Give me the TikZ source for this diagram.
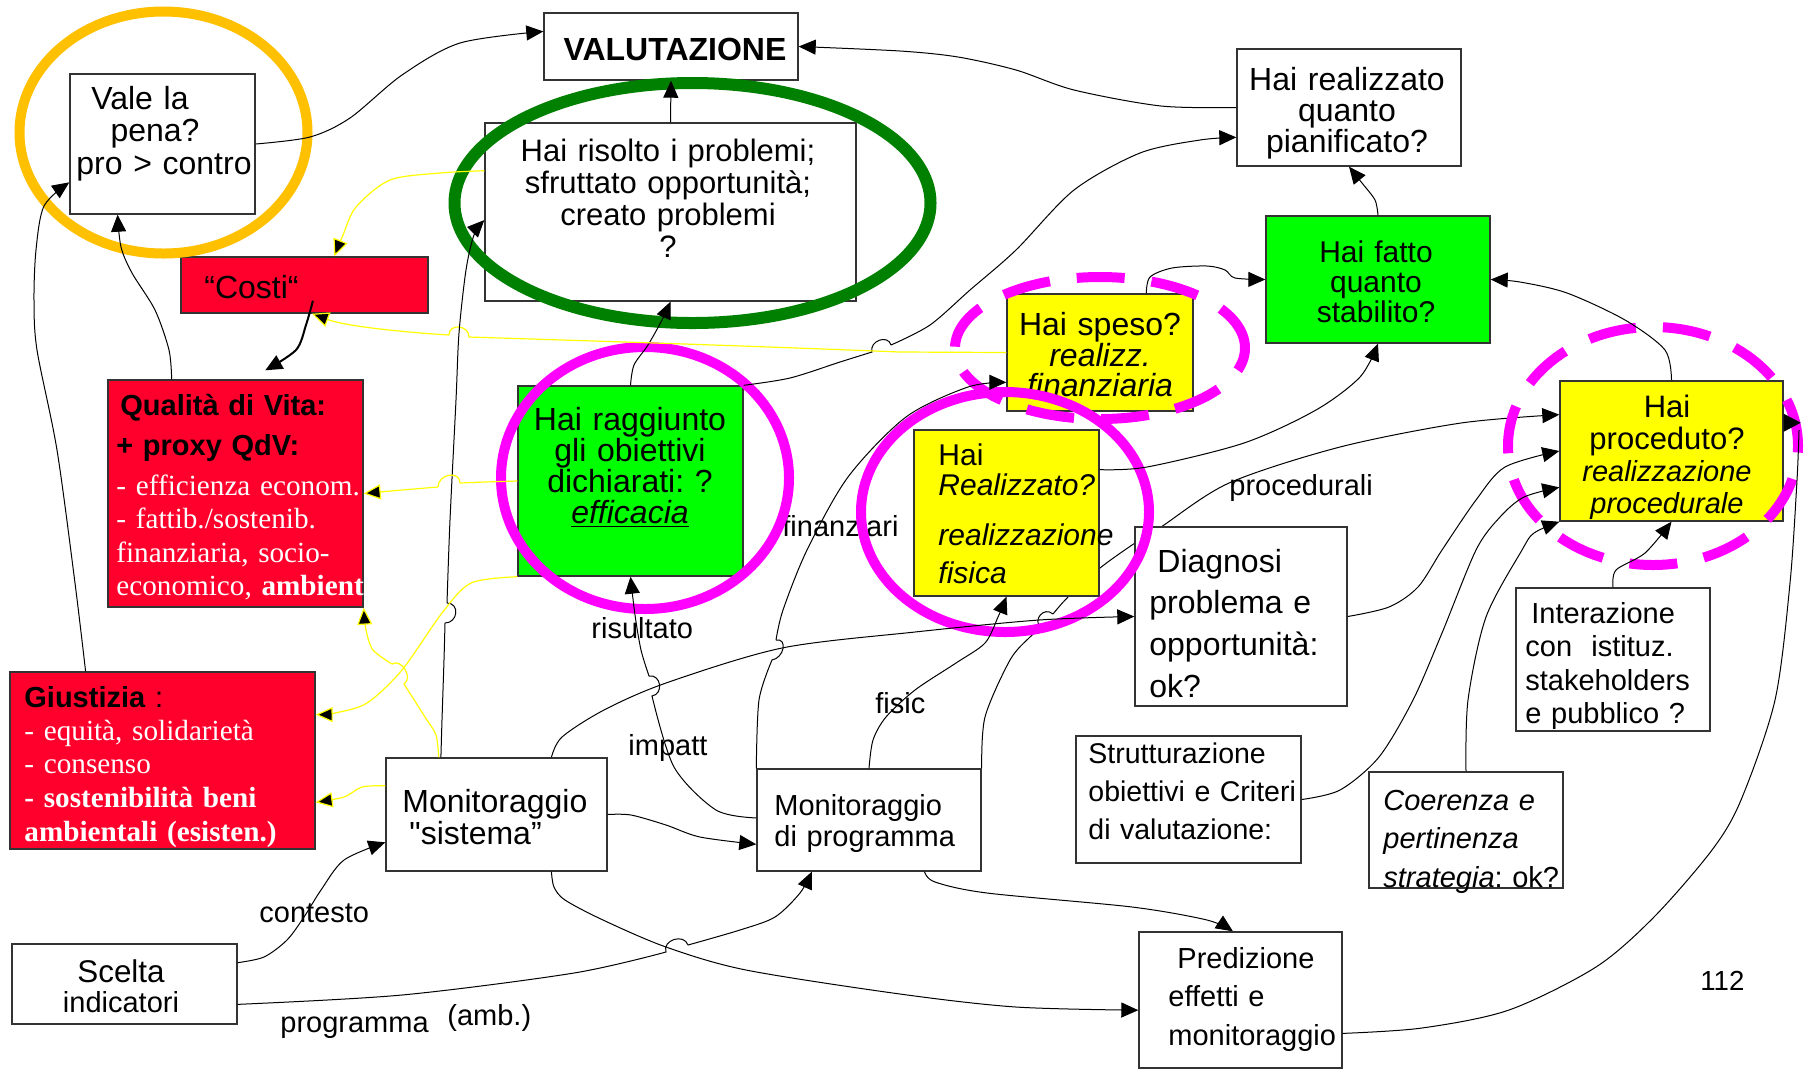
\documentclass[tikz,border=0pt]{standalone}
\usepackage{fontspec}
\newfontfamily\asf{Liberation Sans}
\newfontfamily\tms{Liberation Serif}
\usetikzlibrary{arrows.meta,calc,shapes.geometric}
\definecolor{qred}{RGB}{255,0,44}
\definecolor{qgrn}{RGB}{0,255,0}
\definecolor{qyel}{RGB}{255,255,0}
\definecolor{qmag}{RGB}{255,0,255}
\definecolor{qdkg}{RGB}{0,128,0}
\definecolor{qorange}{RGB}{255,192,0}
\newcommand{\myfs}[2]{\fontsize{#1}{#2}\selectfont}
\pgfdeclarelayer{bg}
\pgfsetlayers{bg,main}
\tikzset{
  box/.style={draw=black!80, line width=0.7pt, inner sep=0pt, rectangle},
  bsz/.style 2 args={minimum width=#1*0.5pt, minimum height=#2*0.5pt},
  tl/.style={inner sep=0pt, anchor=base west, align=left, text width=220pt},
  tc/.style={inner sep=0pt, anchor=base, align=center, text width=220pt},
  conn/.style={draw=black, line width=0.5pt, -{Triangle[length=8.5pt,width=7.5pt]}},
  yconn/.style={draw=qyel, line width=0.6pt, -{Triangle[length=8.5pt,width=7.5pt,fill=black]}},
  ring/.style={ellipse, inner sep=0pt, line width=5pt},
  rsz/.style 2 args={minimum width=#1*1pt, minimum height=#2*1pt},
  lab/.style={tl, font=\asf\myfs{14.5}{16}}
}
\begin{document}
\frenchspacing
\begin{tikzpicture}[x=0.5pt,y=-0.5pt]
\useasboundingbox (0,0) rectangle (1809,1073);
% ---------- boxes ----------
\node[box,fill=white,bsz={254}{67}] (val) at (671,46.5) {};
\node[box,fill=white,bsz={185}{140}] (vale) at (162.5,144) {};
\node[box,fill=white,bsz={371}{178}] (ris) at (670.5,212) {};
\node[box,fill=qred,bsz={247}{56}] (costi) at (304.5,285) {};
\node[box,fill=qred,bsz={255}{227}] (qdv) at (235.5,493.5) {};
\node[box,fill=qgrn,bsz={225}{190}] (ragg) at (630.5,481) {};
\node[box,fill=qyel,bsz={186}{117}] (speso) at (1100,352.5) {};
\node[box,fill=qgrn,bsz={224}{127}] (fatto) at (1378,279.5) {};
\node[box,fill=white,bsz={224}{117}] (realq) at (1349,107.5) {};
\node[box,fill=qyel,bsz={185}{166}] (realf) at (1006.5,513) {};
\node[box,fill=qyel,bsz={223}{140}] (proc) at (1671.5,451) {};
\node[box,fill=white,bsz={212}{179}] (diag) at (1241,616.5) {};
\node[box,fill=white,bsz={194}{143}] (inter) at (1613,659.5) {};
\node[box,fill=white,bsz={225}{127}] (strut) at (1188.5,799.5) {};
\node[box,fill=white,bsz={194}{116}] (coer) at (1466,830) {};
\node[box,fill=white,bsz={221}{113}] (msis) at (496.5,814.5) {};
\node[box,fill=white,bsz={224}{102}] (mprog) at (869,820) {};
\node[box,fill=white,bsz={225}{80}] (scelta) at (124.5,984) {};
\node[box,fill=white,bsz={203}{136}] (pred) at (1240.5,1000) {};
\node[box,fill=qred,bsz={305}{177}] (giust) at (162.5,760.5) {};
% ---------- background + hidden connector ----------
\begin{pgfonlayer}{bg}
\fill[white] (0,0) rectangle (1809,1073);
\coordinate (v1) at ($(proc.north west)!0.243!(proc.south west)$);
\draw[conn] plot[smooth] coordinates {(mprog.north east) (985,717) (1010,660) (1030,637) (1041,628)}
  .. controls (1032,620) and (1044,606) .. (1053,614)
  plot[smooth] coordinates {(1053,614) (1068,597) (1100,568) (1135,543) (1161,527) (1229,483) (1340,447) (1461,423) (v1)};
\end{pgfonlayer}
% ---------- texts ----------
\node[tc,font=\asf\bfseries\myfs{16}{16}] (tval) at (675,60) {VALUTAZIONE};
\node[tc,font=\asf\myfs{16}{16.25}] (tvale) at (164,109) {Vale la\rule{24pt}{0pt}\\pena?\rule{9pt}{0pt}\\pro > contro};
\node[tc,font=\asf\myfs{15.5}{16}] (tris) at (668,161) {Hai risolto i problemi;\\sfruttato opportunità;\\creato problemi\\?};
\node[tl,font=\asf\myfs{16}{16}] (tcosti) at (204,298) {“Costi“};
\node[tl,font=\asf\bfseries\myfs{14.5}{16}] (tqdv1) at (120,415) {Qualità di Vita:};
\node[tl,font=\asf\bfseries\myfs{14.5}{16}] (tqdv2) at (116,455) {+ proxy QdV:};
\node[tl,font=\tms\myfs{14.6}{16.75},text=white] (tqdv3) at (116,495) {- efficienza econom.\\- fattib./sostenib.\\finanziaria, socio-\\economico, \textbf{ambient}};
\node[tc,font=\asf\myfs{16}{15.6}] (tragg) at (630,430) {Hai raggiunto\\gli obiettivi\\dichiarati: ?\\\underline{\itshape efficacia}};
\node[tc,font=\asf\myfs{16}{14.75}] (tspeso) at (1100,335) {Hai speso?\\{\itshape realizz.}\\{\itshape finanziaria}};
\node[tc,font=\asf\myfs{15}{15}] (tfatto) at (1376,262) {Hai fatto\\quanto\\stabilito?};
\node[tc,font=\asf\myfs{16}{15.5}] (trealq) at (1347,90) {Hai realizzato\\quanto\\pianificato?};
\node[tl,font=\asf\myfs{15}{15}] (trealf) at (938,465) {Hai\\{\itshape Realizzato?}\\[10pt]{\itshape realizzazione}\\[4pt]{\itshape fisica}};
\node[tc,font=\asf\myfs{15.5}{16}] (tproc) at (1667,417) {Hai\\proceduto?\\{\itshape\myfs{14.5}{16}realizzazione}\\{\itshape\myfs{14.5}{16}procedurale}};
\node[tl,font=\asf\myfs{16}{20.85}] (tdiag) at (1149,572) {\hspace*{4pt}Diagnosi\\problema e\\opportunità:\\ok?};
\node[tl,font=\asf\myfs{14.5}{16.75}] (tinter) at (1525,623) {\hspace*{3pt}Interazione\\con\ \ istituz.\\stakeholders\\e pubblico ?};
\node[tl,font=\asf\myfs{14.25}{19}] (tstrut) at (1088,763) {Strutturazione\\obiettivi e Criteri\\di valutazione:};
\node[tl,font=\asf\myfs{14.5}{19.25}] (tcoer) at (1383,810) {{\itshape Coerenza e}\\{\itshape pertinenza}\\{\itshape strategia}: ok?};
\node[tl,font=\asf\myfs{16}{16}] (tmsis) at (402,812) {Monitoraggio\\\hspace*{3.5pt}"sistema”};
\node[tl,font=\asf\myfs{14.5}{15.5}] (tmprog) at (774,815) {Monitoraggio\\di programma};
\node[tc,font=\asf\myfs{15.7}{15}] (tscelta) at (121,982) {Scelta\\{\myfs{14.5}{15}indicatori}};
\node[tl,font=\asf\myfs{14.5}{19.25}] (tpred) at (1168,968) {\hspace*{4.5pt}Predizione\\effetti e\\monitoraggio};
\node[tl,font=\asf\myfs{14.5}{16}] (tgiust1) at (24,707) {\textbf{Giustizia} :};
\node[tl,font=\tms\myfs{14.6}{16.9},text=white] (tgiust2) at (24,740) {- equità, solidarietà\\- consenso\\\textbf{- sostenibilità beni}\\\textbf{ambientali (esisten.)}};
% ---------- labels ----------
\node[lab] (lproc) at (1229,495) {procedurali};
\node[lab] (lfin) at (782,536) {finanziari};
\node[lab] (lris) at (591,638) {risultato};
\node[lab] (limp) at (628,755) {impatt};
\node[lab] (lfis) at (875,713) {fisic};
\node[lab] (lcont) at (259,922) {contesto};
\node[lab] (lprog) at (280,1032) {programma};
\node[lab] (lamb) at (447,1025) {(amb.)};
\node[tl,font=\asf\myfs{13.8}{16}] (lpage) at (1700,990) {112};
% ---------- rings ----------
\node[ring,draw=qorange,rsz={144}{121}] (rorange) at (163.5,132.5) {};
\node[ring,draw=qdkg,rsz={238}{120},line width=6pt] (rgreen) at (692.5,203) {};
\node[ring,draw=qmag,rsz={144}{131}] (rmag1) at (645,478) {};
\node[ring,draw=qmag,rsz={144}{120}] (rmag2) at (1005,512) {};
\node[ring,draw=qmag,rsz={145}{71},dash pattern=on 24pt off 13.5pt] (rdash1) at (1100,348) {};
\node[ring,draw=qmag,rsz={145}{119},dash pattern=on 24pt off 13.5pt] (rdash2) at (1653,446) {};
% ---------- connectors ----------
% a
\coordinate (a1) at ($(val.north west)!0.28!(val.south west)$);
\draw[conn] plot[smooth] coordinates {(vale.east) (310,137) (350,118) (402,75) (460,43) (a1)};
% b
\draw[conn] plot[smooth] coordinates {(realq.west) (1161,106) (1074,90) (1016,70) (958,57) (900,51) (val.east)};
% c
\draw[conn] (ris.north) -- (val.south);
% d
\draw[conn] plot[smooth] coordinates {(ragg.north) (634,365) (648,345) (662,320) (ris.south)};
% e
\coordinate (e1) at ($(realq.north west)!0.752!(realq.south west)$);
\draw[conn] plot[smooth] coordinates {(ragg.north east) (790,378) (840,362) (872,352)}
  .. controls (869,341) and (888,334) .. (891,345)
  plot[smooth] coordinates {(891,345) (930,325) (970,290) (1016,250) (1074,190) (1140,153) (1200,140) (e1)};
% f (yellow)
\coordinate (f1) at ($(costi.south west)!0.53!(costi.south east)$);
\draw[yconn] (speso.west) -- (900,352) .. controls (700,344) and (560,340) .. (469,337)
  .. controls (469,325) and (449,323) .. (449,335) .. controls (400,332) and (345,326) .. (f1);
% g (yellow)
\coordinate (g1) at ($(ris.north west)!0.27!(ris.south west)$);
\coordinate (g2) at ($(costi.north west)!0.62!(costi.north east)$);
\draw[yconn] plot[smooth] coordinates {(g1) (440,173) (390,180) (356,207) (343,235) (g2)};
% h
\coordinate (h0) at ($(costi.south west)!0.534!(costi.south east)+(0,-13)$);
\coordinate (h1) at ($(qdv.north west)!0.616!(qdv.north east)+(0,-9)$);
\draw[conn,line width=1pt] plot[smooth] coordinates {(h0) (306,325) (296,350) (h1)};
% i
\coordinate (i0) at ($(qdv.north west)!0.251!(qdv.north east)$);
\coordinate (i1) at ($(vale.south west)!0.259!(vale.south east)$);
\draw[conn] plot[smooth] coordinates {(i0) (169,350) (155,310) (132,273) (121,247) (i1)};
% j
\coordinate (j0) at ($(giust.north west)!0.249!(giust.north east)$);
\coordinate (j1) at ($(vale.north west)!0.771!(vale.south west)$);
\draw[conn] plot[smooth] coordinates {(j0) (75,583) (57,450) (37,350) (34,300) (36,250) (44,206) (j1)};
% k
\coordinate (k0) at ($(msis.north west)!0.25!(msis.north east)$);
\coordinate (k1) at ($(ris.north west)!0.545!(ris.south west)$);
\draw[conn] plot[smooth] coordinates {(k0) (442,720) (444,660) (445,623)}
  .. controls (458,623) and (460,603) .. (447,603)
  plot[smooth] coordinates {(447,603) (450,520) (456,400) (459,333) (466,270) (474,235) (k1)};
% l (yellow)
\coordinate (l0) at ($(msis.north west)!0.24!(msis.north east)$);
\draw[yconn] plot[smooth] coordinates {(l0) (436,735) (425,717) (404,684)}
  .. controls (413.5,678) and (401.5,658) .. (392,664)
  plot[smooth] coordinates {(392,664) (373,650) (366,630) (qdv.south east)};
% m (yellow)
\coordinate (m1) at ($(giust.north east)!0.243!(giust.south east)$);
\draw[yconn] plot[smooth] coordinates {(ragg.south west) (471,583) (442,613) (402,670) (367,703) (335,713) (m1)};
% n (yellow)
\draw[yconn] plot[smooth] coordinates {(ragg.west) (485,482) (460,483)}
  .. controls (460,470) and (438,474) .. (438,487)
  plot[smooth] coordinates {(438,487) (402,490) (qdv.east)};
% o (yellow)
\coordinate (o0) at ($(msis.north west)!0.248!(msis.south west)$);
\coordinate (o1) at ($(giust.north east)!0.734!(giust.south east)$);
\draw[yconn] plot[smooth] coordinates {(o0) (362,787) (344,797) (o1)};
% p
\coordinate (p1) at ($(mprog.north west)!0.735!(mprog.south west)$);
\draw[conn] plot[smooth] coordinates {(msis.east) (631,815) (666,825) (700,837) (p1)};
% q
\coordinate (q0) at ($(scelta.north east)!0.2375!(scelta.south east)$);
\coordinate (q1) at ($(msis.north west)!0.743!(msis.south west)$);
\draw[conn] plot[smooth] coordinates {(q0) (264,957) (287,940) (304,917) (321,890) (344,860) (q1)};
% r
\coordinate (r0) at ($(scelta.north east)!0.75!(scelta.south east)$);
\coordinate (r1) at ($(mprog.south west)!0.246!(mprog.south east)$);
\draw[conn] plot[smooth] coordinates {(r0) (402,995) (574,973) (666,952)}
  .. controls (662,940) and (684,933) .. (688,945)
  plot[smooth] coordinates {(688,945) (740,930) (775,917) (800,893) (r1)};
% s
\coordinate (s0) at ($(msis.south west)!0.747!(msis.south east)$);
\coordinate (s1) at ($(pred.north west)!0.574!(pred.south west)$);
\draw[conn] plot[smooth] coordinates {(s0) (554,887) (565,900) (603,920) (666,947) (746,970) (900,994) (1016,1007) (s1)};
% t
\coordinate (t0) at ($(mprog.south west)!0.746!(mprog.south east)$);
\coordinate (t1) at ($(pred.north west)!0.463!(pred.north east)$);
\draw[conn] plot[smooth] coordinates {(t0) (935,882) (987,893) (1132,907) (1207,920) (t1)};
% u
\coordinate (u0) at ($(pred.north east)!0.743!(pred.south east)$);
\coordinate (u1) at ($(proc.north east)!0.3!(proc.south east)$);
\draw[black,line width=0.5pt] plot[smooth] coordinates {(u0) (1422,1028) (1509,1010) (1596,967) (1654,917) (1712,850) (1741,800) (1775,700) (1790,583) (1797,480) (1799,430)};
\fill[black] ($(u1)+(0,-9)$) -- ($(u1)+(17,0)$) -- ($(u1)+(0,9)$) -- cycle;
% w
\coordinate (w0) at ($(realf.north east)!0.241!(realf.south east)$);
\draw[conn] plot[smooth] coordinates {(w0) (1147,467) (1244,443) (1316,410) (1360,377) (fatto.south)};
% x
\draw[conn] plot[smooth] coordinates {(mprog.north) (873,740) (886,717) (915,690) (956,663) (985,643) (998,617) (realf.south)};
% y
\coordinate (y0) at ($(msis.north west)!0.747!(msis.north east)$);
\draw[conn] plot[smooth] coordinates {(y0) (562,737) (604,710) (666,683) (782,648) (915,632) (1039,620) (diag.west)};
% z
\coordinate (z0) at ($(mprog.north west)!0.48!(mprog.south west)$);
\draw[conn] plot[smooth] coordinates {(z0) (716,810) (674,767) (652,696)}
  .. controls (664,694) and (661,674) .. (649,676)
  plot[smooth] coordinates {(649,676) (641,650) (635,615) (ragg.south)};
% aa
\coordinate (aa1) at ($(speso.north west)!0.752!(speso.south west)$);
\draw[conn] plot[smooth] coordinates {(mprog.north west) (759,700) (772,660)}
  .. controls (784,658) and (788,638) .. (776,640)
  plot[smooth] coordinates {(776,640) (783,610) (807,550) (848,477) (906,417) (968,387) (aa1)};
% bb
\coordinate (bb0) at ($(speso.north west)!0.747!(speso.north east)$);
\draw[conn] plot[smooth] coordinates {(bb0) (1150,277) (1172,268) (1207,266) (1225,270) (1235,278) (fatto.west)};
% cc
\draw[conn] plot[smooth] coordinates {(fatto.north) (1375,200) (1362,183) (realq.south)};
% dd
\draw[conn] plot[smooth] coordinates {(proc.north) (1665,350) (1625,320) (1567,293) (1520,282) (fatto.east)};
% ee
\draw[conn] plot[smooth] coordinates {(inter.north) (1616,570) (1645,553) (proc.south)};
% ff
\draw[conn] plot[smooth] coordinates {(diag.east) (1389,607) (1418,587) (1442,550) (1476,500) (1505,467) (proc.west)};
% gg
\coordinate (gg1) at ($(proc.north west)!0.757!(proc.south west)$);
\draw[conn] plot[smooth] coordinates {(strut.east) (1340,790) (1379,757) (1413,700) (1442,633) (1476,550) (1500,517) (1524,497) (gg1)};
% hh
\draw[conn] plot[smooth] coordinates {(coer.north) (1468,700) (1486,617) (1522,550) (1534,533) (proc.south west)};
\end{tikzpicture}
\end{document}
